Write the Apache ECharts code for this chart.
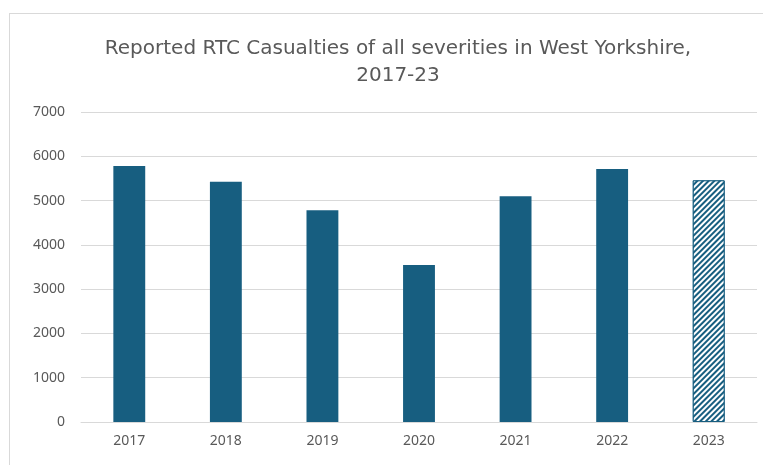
<!DOCTYPE html>
<html><head><meta charset="utf-8">
<script src="https://cdn.jsdelivr.net/npm/echarts@6/dist/echarts.min.js"></script>
<style>
html,body{margin:0;padding:0;background:#fff;overflow:hidden;}
#wrap{position:absolute;left:9px;top:13px;width:780px;height:480px;border:1px solid #d9d9d9;box-sizing:border-box;}
#chart{position:absolute;left:0;top:0;width:763px;height:465px;}
</style></head>
<body>
<div id="wrap"></div>
<div id="chart"></div>
<script>
const titleText = "Reported RTC Casualties of all severities in West Yorkshire,\n2017-23";
const years = ["2017","2018","2019","2020","2021","2022","2023"];
const casualties = [5780, 5426, 4780, 3545, 5096, 5712, 5457];
const provisionalIndex = 6;
const yTicks = { min: 0, max: 7000, interval: 1000 };

const barColor = '#175e80';
const chart = echarts.init(document.getElementById('chart'), null, {renderer:'canvas'});
const data = casualties.map((v, i) => i === provisionalIndex ? {
  value: v,
  itemStyle: {
    color: '#ffffff',
    borderColor: barColor,
    borderWidth: 1,
    decal: {
      symbol: 'rect',
      symbolSize: 1,
      color: barColor,
      backgroundColor: '#ffffff',
      dashArrayX: [1, 0],
      dashArrayY: [2, 2],
      rotation: -Math.PI / 4
    }
  }
} : v);

chart.setOption({
  animation: false,
  backgroundColor: 'transparent',
  title: {
    text: titleText,
    left: 393,
    textAlign: 'center',
    top: 30,
    textStyle: { fontFamily: 'DejaVu Sans', fontSize: 20, fontWeight: 'normal', color: '#595959', lineHeight: 27 }
  },
  grid: { left: 81, right: 6, top: 112, bottom: 43, containLabel: false },
  xAxis: {
    type: 'category',
    data: years,
    axisLine: { lineStyle: { color: '#d9d9d9' } },
    axisTick: { show: false },
    axisLabel: { color: '#595959', fontFamily: 'Noto Sans', fontSize: 14, margin: 12 }
  },
  yAxis: {
    type: 'value',
    min: yTicks.min, max: yTicks.max, interval: yTicks.interval,
    axisLine: { show: false },
    axisTick: { show: false },
    splitLine: { lineStyle: { color: '#d9d9d9' } },
    axisLabel: { color: '#595959', fontFamily: 'Noto Sans', fontSize: 14, margin: 16, formatter: v => String(v) }
  },
  series: [{
    type: 'bar',
    data: data,
    barWidth: '33%',
    itemStyle: { color: barColor }
  }]
});
</script>
</body></html>
